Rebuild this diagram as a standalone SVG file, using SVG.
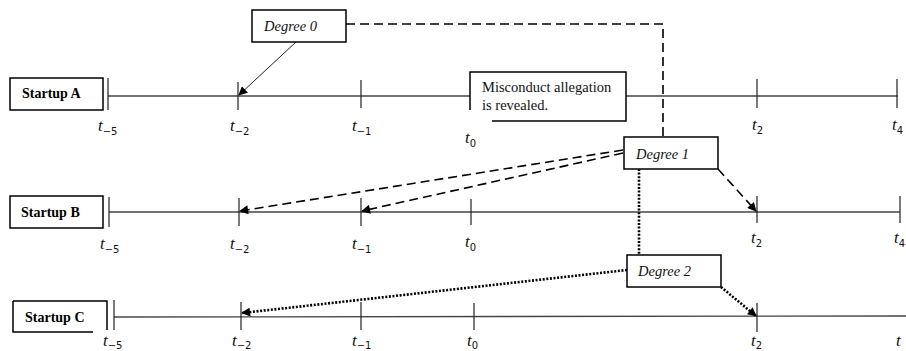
<svg xmlns="http://www.w3.org/2000/svg" width="906" height="351" viewBox="0 0 906 351">
<style>
.tl{stroke:#444;stroke-width:1.3;fill:none}
.tk{stroke:#222;stroke-width:1.2;fill:none}
.box{fill:#fff;stroke:#000;stroke-width:1.5}
.bx{fill:none;stroke:#000;stroke-width:1.5}
.name{font-family:"Liberation Serif","Times New Roman","DejaVu Serif",serif;font-weight:bold;font-size:14px;fill:#000}
.deg{font-family:"Liberation Serif","Times New Roman","DejaVu Serif",serif;font-style:italic;font-size:14.5px;fill:#111}
.mis{font-family:"Liberation Serif","Times New Roman","DejaVu Serif",serif;font-size:14.5px;fill:#111}
.t{font-family:"Liberation Serif","Times New Roman","DejaVu Serif",serif;font-style:italic;font-size:17px;fill:#111}
.s{font-family:"DejaVu Sans",sans-serif;font-style:normal;font-size:10px}
.dash{stroke:#000;stroke-width:1.6;stroke-dasharray:9 5;fill:none}
.dot{stroke:#000;stroke-width:2.6;stroke-dasharray:2 1.6;fill:none}
.sol{stroke:#222;stroke-width:1;fill:none}
</style>
<defs>
<marker id="ah" viewBox="0 0 10 10" refX="9" refY="5" markerWidth="10" markerHeight="9" markerUnits="userSpaceOnUse" orient="auto">
<path d="M0,0 L10,5 L0,10 z" fill="#000"/>
</marker>
</defs>

<g id="timeline-a">
<line class="tl" x1="108" y1="96" x2="898" y2="96"/>
<line class="tk" x1="108" y1="78" x2="108" y2="110"/>
<line class="tk" x1="238" y1="82" x2="238" y2="110"/>
<line class="tk" x1="361" y1="80" x2="361" y2="108"/>
<line class="tk" x1="757" y1="79" x2="757" y2="108"/>
<line class="tk" x1="897" y1="79" x2="897" y2="108"/>
<text class="t" x="98" y="131">t<tspan class="s" dy="4">−5</tspan></text>
<text class="t" x="230" y="131">t<tspan class="s" dy="4">−2</tspan></text>
<text class="t" x="352" y="131">t<tspan class="s" dy="4">−1</tspan></text>
<text class="t" x="465" y="143">t<tspan class="s" dy="4">0</tspan></text>
<text class="t" x="752" y="130">t<tspan class="s" dy="4">2</tspan></text>
<text class="t" x="892" y="130">t<tspan class="s" dy="4">4</tspan></text>
</g>

<g id="timeline-b">
<line class="tl" x1="109" y1="212" x2="900" y2="212"/>
<line class="tk" x1="109" y1="197" x2="109" y2="227"/>
<line class="tk" x1="239" y1="198" x2="239" y2="226"/>
<line class="tk" x1="361" y1="198" x2="361" y2="226"/>
<line class="tk" x1="471" y1="199" x2="471" y2="225"/>
<line class="tk" x1="757" y1="196" x2="757" y2="223"/>
<line class="tk" x1="900" y1="196" x2="900" y2="223"/>
<text class="t" x="100" y="249">t<tspan class="s" dy="4">−5</tspan></text>
<text class="t" x="230" y="249">t<tspan class="s" dy="4">−2</tspan></text>
<text class="t" x="352" y="249">t<tspan class="s" dy="4">−1</tspan></text>
<text class="t" x="465" y="247">t<tspan class="s" dy="4">0</tspan></text>
<text class="t" x="751" y="243">t<tspan class="s" dy="4">2</tspan></text>
<text class="t" x="894" y="243">t<tspan class="s" dy="4">4</tspan></text>
</g>

<g id="timeline-c">
<line class="tl" x1="114" y1="317" x2="906" y2="316"/>
<line class="tk" x1="114" y1="300" x2="114" y2="330"/>
<line class="tk" x1="241" y1="302" x2="241" y2="330"/>
<line class="tk" x1="361" y1="302" x2="361" y2="330"/>
<line class="tk" x1="474" y1="303" x2="474" y2="330"/>
<line class="tk" x1="757" y1="303" x2="757" y2="332"/>
<text class="t" x="103" y="346">t<tspan class="s" dy="3">−5</tspan></text>
<text class="t" x="232" y="346">t<tspan class="s" dy="3">−2</tspan></text>
<text class="t" x="352" y="346">t<tspan class="s" dy="3">−1</tspan></text>
<text class="t" x="467" y="346">t<tspan class="s" dy="3">0</tspan></text>
<text class="t" x="751" y="346">t<tspan class="s" dy="3">2</tspan></text>
<text class="t" x="896" y="346">t</text>
</g>

<g id="startup-a">
<rect class="box" x="10" y="78" width="93" height="32"/>
<text class="name" x="22" y="98">Startup A</text>
</g>
<g id="startup-b">
<rect class="box" x="10" y="196" width="93" height="32"/>
<text class="name" x="21" y="217">Startup B</text>
</g>
<g id="startup-c">
<rect x="13" y="301" width="94" height="31" fill="#fff"/>
<path class="bx" d="M13,301 H107 V330 M13,301 V332 H93"/>
<text class="name" x="25" y="322">Startup C</text>
</g>

<g id="connectors">
<line class="sol" x1="296" y1="42" x2="239" y2="95" marker-end="url(#ah)"/>
<path class="dash" d="M346,24 H663 V137"/>
<line class="dash" x1="623" y1="150" x2="240" y2="211" marker-end="url(#ah)"/>
<line class="dash" x1="623" y1="153" x2="362" y2="211" marker-end="url(#ah)"/>
<line class="dash" x1="718" y1="169" x2="756" y2="211" marker-end="url(#ah)"/>
<line class="dot" x1="639" y1="169" x2="639" y2="255"/>
<line class="dot" x1="627" y1="270" x2="242" y2="313" marker-end="url(#ah)"/>
<line class="dot" x1="721" y1="287" x2="756" y2="316" marker-end="url(#ah)"/>
</g>

<g id="misconduct">
<rect x="470" y="72" width="156" height="49" fill="#fff"/>
<path class="bx" d="M470,110 V72 H626 V121 H492"/>
<text class="mis" x="482" y="92">Misconduct allegation</text>
<text class="mis" x="482" y="110">is revealed.</text>
</g>
<g id="degree-0">
<rect class="box" x="252" y="10" width="94" height="32"/>
<text class="deg" x="264" y="31">Degree 0</text>
</g>
<g id="degree-1">
<rect class="box" x="624" y="137" width="94" height="32"/>
<text class="deg" x="636" y="159">Degree 1</text>
</g>
<g id="degree-2">
<rect class="box" x="627" y="255" width="94" height="32"/>
<text class="deg" x="638" y="276">Degree 2</text>
</g>
</svg>
